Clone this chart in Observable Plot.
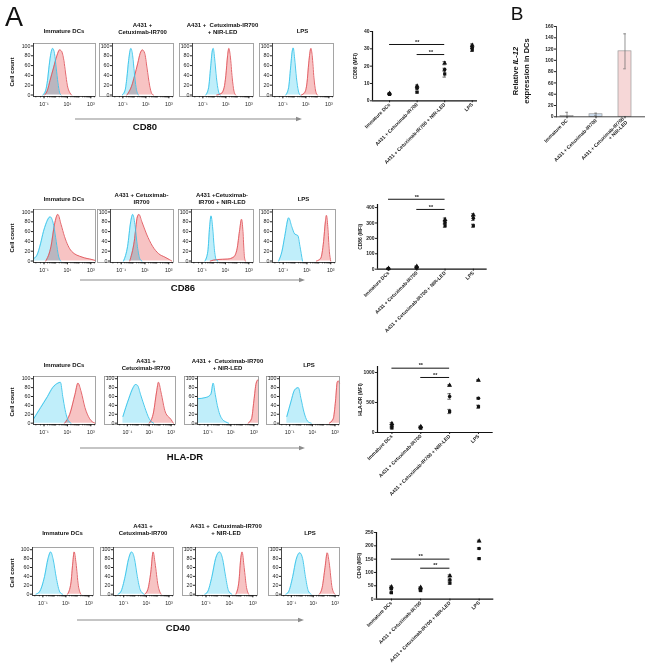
<!DOCTYPE html>
<html><head><meta charset="utf-8">
<script src="https://cdn.jsdelivr.net/npm/d3@7"></script>
<script src="https://cdn.jsdelivr.net/npm/@observablehq/plot@0.6"></script>
<style>
body{margin:0;background:#fff;}
#fig{position:relative;width:650px;height:669px;overflow:hidden;background:#fff;font-family:"Liberation Sans",Arial,Helvetica,sans-serif;}
</style></head><body><div id="fig"></div>
<script>
// ---------------- DATA ----------------
const conditions = ["Immature DCs", "A431 + Cetuximab-IR700", "A431 + Cetuximab-IR700 + NIR-LED", "LPS"];
const markers = ["CD80", "CD86", "HLA-DR", "CD40"];
const mfiLabels = ["CD80 (MFI)", "CD86 (MFI)", "HLA-DR (MFI)", "CD40 (MFI)"];
const titlesA = [["Immature DCs"], ["A431 +", "Cetuximab-IR700"], ["A431 +  Cetuximab-IR700", "+ NIR-LED"], ["LPS"]];
const titlesB = [["Immature DCs"], ["A431 + Cetuximab-", "IR700"], ["A431 +Cetuximab-", "IR700 + NIR-LED"], ["LPS"]];
const histTicks = [-1, 1, 3];
const histTickLabels = ["10\u207B\u00B9", "10\u00B9", "10\u00B3"];
const countTicks = [0, 20, 40, 60, 80, 100];

// histogram curves: [log10 fluorescence, % of max]
const cd80Blue = [
  [[-1.1,0],[-0.85,10],[-0.7,30],[-0.56,60],[-0.41,85],[-0.26,95],[-0.11,85],[0.04,55],[0.19,25],[0.33,5],[0.45,0]],
  [[-1.05,0],[-0.8,10],[-0.65,35],[-0.5,70],[-0.3,95],[-0.15,80],[0,45],[0.15,15],[0.35,0]],
  [[-0.75,0],[-0.5,15],[-0.33,55],[-0.18,90],[-0.1,95],[0.02,75],[0.18,35],[0.35,8],[0.5,0]],
  [[-0.75,0],[-0.5,15],[-0.33,55],[-0.18,90],[-0.1,96],[0.02,75],[0.18,35],[0.35,8],[0.5,0]]
];
const cd80Red = [
  [[-0.95,0],[-0.7,10],[-0.48,30],[-0.19,55],[0.1,80],[0.33,92],[0.48,90],[0.7,70],[0.84,45],[0.99,20],[1.2,5],[1.35,0]],
  [[-0.65,0],[-0.24,18],[0.03,40],[0.3,65],[0.51,85],[0.7,92],[0.9,85],[1.1,55],[1.32,20],[1.51,3],[1.65,0]],
  [[0.2,0],[0.6,3],[0.85,15],[1.0,40],[1.15,80],[1.26,95],[1.38,80],[1.55,35],[1.7,8],[1.85,0]],
  [[0.6,0],[0.9,5],[1.1,25],[1.25,65],[1.44,95],[1.55,80],[1.7,35],[1.85,8],[2.0,0]]
];
const cd86Blue = [
  [[-1.89,5],[-1.6,12],[-1.3,35],[-1.05,60],[-0.85,75],[-0.47,90],[-0.17,72],[0.04,40],[0.24,10],[0.42,0]],
  [[-0.8,0],[-0.46,30],[-0.2,80],[-0.03,95],[0.15,75],[0.36,30],[0.56,5],[0.74,0]],
  [[-0.75,0],[-0.5,20],[-0.35,70],[-0.23,92],[-0.1,70],[0.05,25],[0.2,3],[0.35,0]],
  [[-1.38,0],[-1.1,20],[-0.87,50],[-0.54,88],[-0.28,70],[-0.03,55],[0.23,52],[0.41,30],[0.62,0]]
];
const cd86Red = [
  [[-0.85,0],[-0.4,30],[-0.1,75],[0.18,95],[0.45,75],[0.75,50],[1.35,20],[2.25,8],[3.1,3],[3.4,1]],
  [[-0.28,0],[0.1,40],[0.36,90],[0.49,95],[0.74,80],[1.13,55],[1.64,30],[2.15,15],[2.67,8],[3.05,3],[3.25,0]],
  [[-0.3,0],[0.3,3],[1.2,4],[1.7,8],[2.0,25],[2.2,60],[2.38,85],[2.5,60],[2.6,15],[2.7,0]],
  [[1.8,0],[2.15,5],[2.4,40],[2.55,80],[2.64,93],[2.75,70],[2.88,20],[3.0,0]]
];
const hladrBlue = [
  [[-1.88,10],[-1.29,35],[-0.7,60],[-0.26,80],[0.18,90],[0.4,92],[0.6,60],[0.8,30],[1.0,10],[1.3,0]],
  [[-1.4,15],[-0.87,55],[-0.47,80],[-0.25,87],[-0.07,85],[0.2,65],[0.6,35],[1.0,10],[1.27,2],[1.4,0]],
  [[-1.9,55],[-1.13,58],[-0.74,65],[-0.54,90],[-0.36,65],[-0.18,40],[0.03,20],[0.28,8],[0.54,3],[0.8,0]],
  [[-1.25,15],[-0.87,50],[-0.62,72],[-0.44,78],[-0.24,80],[0.0,55],[0.26,25],[0.56,5],[0.9,0]]
];
const hladrRed = [
  [[0.76,0],[1.2,20],[1.65,65],[1.9,90],[2.18,70],[2.5,35],[2.9,10],[3.35,0]],
  [[1.0,0],[1.4,25],[1.67,70],[1.85,92],[2.07,70],[2.47,25],[3.0,8],[3.2,0]],
  [[2.5,0],[2.8,10],[3.0,50],[3.2,90],[3.35,97],[3.4,97]],
  [[2.5,0],[2.85,10],[3.05,50],[3.2,92],[3.3,95],[3.4,90]]
];
const cd40Blue = [
  [[-1.6,0],[-1.3,5],[-0.85,40],[-0.55,80],[-0.32,95],[-0.12,80],[0.18,35],[0.47,5],[0.7,0]],
  [[-1.5,0],[-1.26,5],[-0.87,40],[-0.56,80],[-0.3,95],[-0.05,80],[0.2,40],[0.46,10],[0.8,0]],
  [[-1.1,0],[-0.87,5],[-0.49,40],[-0.18,80],[0.15,95],[0.41,80],[0.67,40],[0.92,8],[1.2,0]],
  [[-1.5,0],[-1.26,5],[-0.87,40],[-0.56,78],[-0.23,93],[0.03,80],[0.28,40],[0.54,8],[0.8,0]]
];
const cd40Red = [
  [[1.15,0],[1.44,25],[1.6,70],[1.72,95],[1.88,70],[2.08,20],[2.3,0]],
  [[0.87,0],[1.13,10],[1.4,50],[1.6,95],[1.77,70],[2.03,20],[2.3,0]],
  [[1.56,0],[1.82,30],[1.95,75],[2.08,95],[2.26,60],[2.46,15],[2.64,0]],
  [[1.56,0],[1.82,15],[2.08,60],[2.28,93],[2.46,70],[2.72,15],[2.97,0]]
];

// MFI replicates (mean, SD) per condition
const cd80Mfi = [[3.7,4.0,4.3],[5.0,7.3,8.5],[15.5,18.0,21.7],[29.3,30.8,32.1]];
const cd80Sd  = [[0.3,0.3,0.3],[0.5,0.6,0.6],[1.8,0.8,0.9],[0.8,0.6,0.7]];
const cd86Mfi = [[3,4,5],[8,12,18],[282,302,322],[282,330,352]];
const cd86Sd  = [[2,2,2],[4,4,4],[10,6,10],[10,14,8]];
const hladrMfi = [[75,110,150],[72,85,100],[350,600,785],[430,570,870]];
const hladrSd  = [[12,15,15],[10,10,10],[35,45,12],[25,15,10]];
const cd40Mfi = [[24,38,46],[32,38,44],[60,72,87],[152,190,218]];
const cd40Sd  = [[2,3,3],[2,2,2],[4,3,4],[2,3,3]];
const sigPairs = [[0,2],[1,2]];
const sigLevels = [[32.5,26.7],[454,388],[1072,917],[150,116]];
const sigText = "**";

// Panel B: IL-12
const il12Cats = ["Immature DC", "A431 + Cetuximab-IR700", "A431 + Cetuximab-IR700\n+ NIR-LED"];
const il12Mean = [1.5, 4.5, 116];
const il12Err = [6.5, 2.0, 31];
const il12Fill = ["#f4f4f4", "#cfe0f2", "#f6d7d7"];
const il12Ticks = [0, 20, 40, 60, 80, 100, 120, 140, 160];

// ---------------- LAYOUT ----------------
const FONT = '"Liberation Sans", Arial, Helvetica, sans-serif';
const fig = document.getElementById("fig");
function place(el, left, top) {
  el.style.position = "absolute"; el.style.left = left + "px"; el.style.top = top + "px";
  fig.appendChild(el);
}
function txt(html, x, y, o = {}) {
  const d = document.createElement("div");
  d.innerHTML = html;
  Object.assign(d.style, {
    position: "absolute", left: x + "px", top: y + "px", fontFamily: FONT,
    fontSize: (o.size || 6) + "px", fontWeight: o.weight || "bold", whiteSpace: "pre",
    lineHeight: (o.lh || 1.1), color: o.color || "#111", textAlign: "center",
    transform: `translate(-50%,-50%) rotate(${o.rot || 0}deg)`
  });
  fig.appendChild(d);
}
function arrow(x1, x2, y) {
  const W = x2 - x1 + 2;
  const s = d3.create("svg").attr("width", W).attr("height", 8);
  s.append("line").attr("x1", 0).attr("x2", W - 4).attr("y1", 4).attr("y2", 4).attr("stroke", "#8c8c8c").attr("stroke-width", 1.1);
  s.append("path").attr("d", `M${W - 6},1.8L${W},4L${W - 6},6.2Z`).attr("fill", "#8c8c8c");
  place(s.node(), x1, y - 4);
}

const histRows = [
  {blue: cd80Blue, red: cd80Red, titles: titlesA, frameTop: 43, frameBottom: 96, plotX: [33,112,192,272], plotW: [62,61,61,61], titleY: [25,31.7,31], arrow: [75,300,119], mk: [145,127]},
  {blue: cd86Blue, red: cd86Red, titles: titlesB, frameTop: 209, frameBottom: 262, plotX: [33,110,191,272], plotW: [62,63,62,63], titleY: [195,201.7,199], arrow: [80,303,280], mk: [183,288]},
  {blue: hladrBlue, red: hladrRed, titles: titlesA, frameTop: 376, frameBottom: 424, plotX: [33,117,197,279], plotW: [62,58,61,60], titleY: [360.5,368.3,365], arrow: [80,303,448], mk: [185,457]},
  {blue: cd40Blue, red: cd40Red, titles: titlesA, frameTop: 547, frameBottom: 595, plotX: [32,113,195,281], plotW: [61,60,62,58], titleY: [525.8,532.5,533], arrow: [77,302,620], mk: [178,628]}
];
const minorTicks = d3.range(-1, 4).flatMap(e => d3.range(1, 10).map(k => e + Math.log10(k)))
  .concat([-2 + Math.log10(2), -2 + Math.log10(5)]).filter(v => v > -1.9 && v < 3.4);

function histPlot(row, j) {
  const ML = 14, MB = 16;
  const W = row.plotW[j], H = row.frameBottom - row.frameTop;
  const blue = row.blue[j], red = row.red[j];
  const X = d => d[0], Y = d => d[1];
  const p = Plot.plot({
    width: ML + W + 1, height: H + MB, marginLeft: ML, marginRight: 1, marginTop: 0, marginBottom: MB,
    x: {domain: [-1.9, 3.4]}, y: {domain: [-3, 105]},
    style: {fontFamily: FONT, fontSize: "5px", background: "transparent", overflow: "visible", color: "#222"},
    marks: [
      Plot.areaY(red, {x: X, y: Y, fill: "#f7c3c3", curve: "monotone-x"}),
      Plot.areaY(blue, {x: X, y: Y, fill: "#c0eefa", curve: "monotone-x", mixBlendMode: "multiply"}),
      Plot.lineY(red, {x: X, y: Y, stroke: "#e0555b", strokeWidth: 0.9, curve: "monotone-x"}),
      Plot.lineY(blue, {x: X, y: Y, stroke: "#35c3ea", strokeWidth: 0.9, curve: "monotone-x"}),
      Plot.frame({stroke: "#8f8f8f", strokeWidth: 0.8, insetLeft: j ? -(ML - 1) : 0}),
      Plot.ruleX([-1.9], {stroke: "#333", strokeWidth: 0.9}),
      Plot.ruleY([-3], {stroke: "#333", strokeWidth: 0.9}),
      Plot.axisY(countTicks, {tickSize: 2, tickPadding: 1, label: null, fontSize: 5.3}),
      Plot.axisX(minorTicks, {tickSize: 1.3, tickFormat: () => "", label: null}),
      Plot.axisX(histTicks, {tickSize: 2.3, tickPadding: 3, label: null, fontSize: 5.3,
        tickFormat: d => histTickLabels[histTicks.indexOf(d)]})
    ]
  });
  place(p, row.plotX[j] - ML, row.frameTop);
}

histRows.forEach((row, r) => {
  for (let j = 0; j < 4; j++) {
    histPlot(row, j);
    const cx = row.plotX[j] + row.plotW[j] / 2;
    const t = row.titles[j];
    if (t.length === 1) txt(t[0], cx, row.titleY[2]);
    else { txt(t[0], cx, row.titleY[0]); txt(t[1], cx, row.titleY[1]); }
  }
  txt("Cell count", 12, (row.frameTop + row.frameBottom) / 2 + 2, {rot: -90, size: 6});
  arrow(row.arrow[0], row.arrow[1], row.arrow[2]);
  txt(markers[r], row.mk[0], row.mk[1], {size: 9.5});
});

// ---------------- MFI dot plots ----------------
const scatCfg = [
  {axisX: 372, right: 477, top: 30.7, bottom: 100, xDomain: [-0.62, 3.19], yMax: 40, yTicks: [0,10,20,30,40], mfi: cd80Mfi, sd: cd80Sd},
  {axisX: 377.3, right: 487, top: 203.6, bottom: 268.3, xDomain: [-0.39, 3.49], yMax: 420, yTicks: [0,100,200,300,400], mfi: cd86Mfi, sd: cd86Sd},
  {axisX: 377.3, right: 493, top: 365.7, bottom: 431.7, xDomain: [-0.5, 3.51], yMax: 1100, yTicks: [0,500,1000], mfi: hladrMfi, sd: hladrSd},
  {axisX: 375.7, right: 493, top: 531.7, bottom: 598.3, xDomain: [-0.51, 3.5], yMax: 250, yTicks: [0,50,100,150,200,250], mfi: cd40Mfi, sd: cd40Sd}
];
scatCfg.forEach((cfg, r) => {
  const ML = 26, MT = 14, MB = 80, MR = 4;
  const W = cfg.right - cfg.axisX, H = cfg.bottom - cfg.top;
  const pts = cfg.mfi.flatMap((ms, i) => ms.map((m, k) => ({i, k, m, s: cfg.sd[i][k]})));
  const sig = sigPairs.map((pr, k) => ({a: pr[0], b: pr[1], h: sigLevels[r][k]}));
  const p = Plot.plot({
    width: ML + W + MR, height: MT + H + MB, marginLeft: ML, marginTop: MT, marginBottom: MB, marginRight: MR,
    x: {domain: cfg.xDomain}, y: {domain: [0, cfg.yMax]},
    symbol: {domain: [0, 1, 2], range: ["square", "circle", "triangle"]},
    style: {fontFamily: FONT, fontSize: "5px", fontWeight: "bold", background: "transparent", overflow: "visible", color: "#222"},
    marks: [
      Plot.axisY(cfg.yTicks, {tickSize: 2, tickPadding: 1, label: null, fontSize: 5, tickFormat: d => String(d)}),
      Plot.axisX([0, 1, 2, 3], {tickFormat: i => conditions[i], tickRotate: -45, tickSize: 2, tickPadding: 1, label: null, fontSize: 5}),
      Plot.ruleX([cfg.xDomain[0]], {stroke: "#111", strokeWidth: 1.2}),
      Plot.ruleY([0], {stroke: "#111", strokeWidth: 1.2}),
      Plot.text([mfiLabels[r]], {frameAnchor: "left", text: d => d, rotate: -90, dx: -17, textAnchor: "middle", fontSize: 5}),
      Plot.ruleX(pts, {x: "i", y1: d => d.m - d.s, y2: d => d.m + d.s, stroke: "#111", strokeWidth: 0.7}),
      Plot.ruleY(pts, {y: d => d.m + d.s, x1: d => d.i - 0.06, x2: d => d.i + 0.06, stroke: "#111", strokeWidth: 0.7}),
      Plot.ruleY(pts, {y: d => d.m - d.s, x1: d => d.i - 0.06, x2: d => d.i + 0.06, stroke: "#111", strokeWidth: 0.7}),
      Plot.dot(pts, {x: "i", y: "m", symbol: "k", fill: "#111", r: 1.8}),
      Plot.ruleY(sig, {y: "h", x1: "a", x2: "b", stroke: "#111", strokeWidth: 1}),
      Plot.text(sig, {x: d => (d.a + d.b) / 2, y: "h", text: () => sigText, dy: -2.5, fontSize: 5.5})
    ]
  });
  place(p, cfg.axisX - ML, cfg.top - MT);
});

// ---------------- Panel B ----------------
{
  const ML = 16, MT = 6, MB = 60, MR = 6;
  const x0 = 556, x1 = 645, yTop = 26, yBot = 116.3;
  const W = x1 - x0, H = yBot - yTop;
  const il12 = il12Cats.map((c, i) => ({c, m: il12Mean[i], e: il12Err[i], f: il12Fill[i]}));
  const p = Plot.plot({
    width: ML + W + MR, height: MT + H + MB, marginLeft: ML, marginTop: MT, marginBottom: MB, marginRight: MR,
    x: {domain: il12Cats, range: [ML + 3.5, ML + 76.5], paddingInner: 0.55, paddingOuter: 0},
    y: {domain: [0, 160]},
    style: {fontFamily: FONT, fontSize: "5px", fontWeight: "bold", background: "transparent", overflow: "visible", color: "#222"},
    marks: [
      Plot.barY(il12, {x: "c", y: "m", fill: "f", stroke: "#9a9a9a", strokeWidth: 0.7}),
      Plot.ruleX(il12, {x: "c", y1: d => Math.max(0, d.m - d.e), y2: d => d.m + d.e, stroke: "#666", strokeWidth: 0.7}),
      Plot.tickY(il12, {x: "c", y: d => d.m + d.e, stroke: "#666", strokeWidth: 0.7, insetLeft: 5.2, insetRight: 5.2}),
      Plot.tickY(il12.filter(d => d.m - d.e > 0), {x: "c", y: d => d.m - d.e, stroke: "#666", strokeWidth: 0.7, insetLeft: 5.2, insetRight: 5.2}),
      Plot.frame({anchor: "left", stroke: "#333", strokeWidth: 0.9}),
      Plot.ruleY([0], {stroke: "#333", strokeWidth: 0.9}),
      Plot.axisY(il12Ticks, {tickSize: 2, tickPadding: 1, label: null, fontSize: 5}),
      Plot.axisX({tickRotate: -45, tickSize: 2, tickPadding: 1, label: null, fontSize: 5})
    ]
  });
  place(p, x0 - ML, yTop - MT);
  txt('Relative <i>IL-12</i><br>expression in DCs', 520.5, 71, {rot: -90, size: 7.5, lh: 1.4});
}

// panel letters
txt("A", 14, 18, {size: 27, weight: "normal"});
txt("B", 517, 14, {size: 19, weight: "normal"});
</script></body></html>
